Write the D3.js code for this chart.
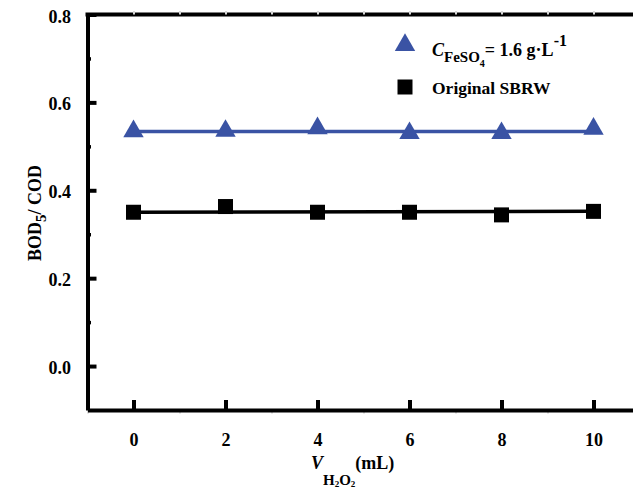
<!DOCTYPE html>
<html>
<head>
<meta charset="utf-8">
<script src="https://cdn.jsdelivr.net/npm/d3@7"></script>
<style>
  html, body { margin: 0; padding: 0; background: #fff; }
  svg { display: block; }
  text { font-family: "Liberation Serif", "Times New Roman", serif; font-weight: bold; fill: #000; }
</style>
</head>
<body>
<svg id="chart" width="633" height="498"></svg>
<script>
// ---- data ----
const volumes = [0, 2, 4, 6, 8, 10];
const fesoValues = [0.534, 0.535, 0.541, 0.530, 0.530, 0.540];
const originalValues = [0.350, 0.363, 0.350, 0.350, 0.344, 0.352];
const fitX = [0, 10];
const fesoFit = [0.534, 0.534];
const originalFit = [0.350, 0.352];
const xTicks = [0, 2, 4, 6, 8, 10];
const xMinorTicks = [-1, 1, 3, 5, 7, 9, 11];
const yTicks = [0.0, 0.2, 0.4, 0.6, 0.8];
const yMinorTicks = [0.1, 0.3, 0.5, 0.7];

const blue = "#3a53a4";
const svg = d3.select("#chart");

const x = d3.scaleLinear().domain([-1, 11]).range([87.5, 639.5]);
const y = d3.scaleLinear().domain([-0.1, 0.8]).range([410, 14.5]);

// top frame line
svg.append("line")
  .attr("x1", x(-1) - 2).attr("x2", 640)
  .attr("y1", y(0.8)).attr("y2", y(0.8))
  .attr("stroke", "#000").attr("stroke-width", 4);

// faint minor ticks along top and bottom
svg.append("g").attr("transform", `translate(0,${y(0.8)})`)
  .call(d3.axisTop(x).tickValues(d3.range(0, 11)).tickSize(3.5).tickFormat(""))
  .call(g => g.select(".domain").remove())
  .call(g => g.selectAll("line").attr("stroke", "#d8d8d8").attr("stroke-width", 2));

svg.append("g").attr("transform", `translate(0,${y(-0.1)})`)
  .call(d3.axisBottom(x).tickValues(xMinorTicks).tickSize(3.5).tickFormat(""))
  .call(g => g.select(".domain").remove())
  .call(g => g.selectAll("line").attr("stroke", "#d8d8d8").attr("stroke-width", 2));

// x axis
const xAxis = svg.append("g").attr("transform", `translate(0,${y(-0.1)})`)
  .call(d3.axisBottom(x).tickValues(xTicks).tickSize(-10).tickSizeOuter(0).tickPadding(23).tickFormat(d3.format("d")));
xAxis.select(".domain").attr("stroke-width", 4);
xAxis.selectAll(".tick line").attr("stroke-width", 4);
xAxis.selectAll(".tick text").attr("font-size", 18).attr("font-family", null).attr("dy", "0.71em");

// y axis
const yAxis = svg.append("g").attr("transform", `translate(${x(-1)},0)`)
  .call(d3.axisLeft(y).tickValues(yTicks).tickSize(-9).tickSizeOuter(0).tickPadding(16.5).tickFormat(d3.format(".1f")));
yAxis.select(".domain").attr("stroke-width", 4);
yAxis.selectAll(".tick line").attr("stroke-width", 4);
yAxis.selectAll(".tick text").attr("font-size", 18).attr("font-family", null).attr("dy", "0.42em");

svg.append("g").attr("transform", `translate(${x(-1)},0)`)
  .call(d3.axisLeft(y).tickValues(yMinorTicks).tickSize(-3.5).tickFormat(""))
  .call(g => g.select(".domain").remove())
  .call(g => g.selectAll("line").attr("stroke-width", 3.5));

// fit lines
const line = d3.line().x(d => x(d[0])).y(d => y(d[1]));
svg.append("path").datum(fitX.map((v, i) => [v, fesoFit[i]]))
  .attr("d", line).attr("fill", "none").attr("stroke", blue).attr("stroke-width", 3.5);
svg.append("path").datum(fitX.map((v, i) => [v, originalFit[i]]))
  .attr("d", line).attr("fill", "none").attr("stroke", "#000").attr("stroke-width", 3.5);

// markers
const tri = d3.symbol().type(d3.symbolTriangle).size(180);
const sq = d3.symbol().type(d3.symbolSquare).size(225);
svg.append("g").selectAll("path").data(volumes.map((v, i) => [v, fesoValues[i]])).join("path")
  .attr("d", tri).attr("fill", blue)
  .attr("transform", d => `translate(${x(d[0])},${y(d[1])})`);
svg.append("g").selectAll("path").data(volumes.map((v, i) => [v, originalValues[i]])).join("path")
  .attr("d", sq).attr("fill", "#000")
  .attr("transform", d => `translate(${x(d[0])},${y(d[1])})`);

// legend
svg.append("path").attr("d", tri).attr("fill", blue).attr("transform", "translate(405,45)");
svg.append("path").attr("d", sq).attr("fill", "#000").attr("transform", "translate(405,87)");

const l1 = svg.append("text").attr("x", 432).attr("y", 56).attr("font-size", 18);
l1.append("tspan").attr("font-style", "italic").text("C");
l1.append("tspan").attr("font-size", 15).attr("dy", 6).text("FeSO");
l1.append("tspan").attr("font-size", 10).attr("dy", 5).text("4");
l1.append("tspan").attr("dy", -11).attr("dx", 0).text("= 1.6 g\u00B7L");
l1.append("tspan").attr("font-size", 16).attr("dy", -10).text("-1");

svg.append("text").attr("x", 432).attr("y", 94).attr("font-size", 17.5).text("Original SBRW");

// x axis title
const xt = svg.append("text").attr("x", 311).attr("y", 469).attr("font-size", 18);
xt.append("tspan").attr("font-style", "italic").text("V");
xt.append("tspan").attr("font-size", 15).attr("dy", 16).text("H");
xt.append("tspan").attr("font-size", 9).attr("dy", 2).text("2");
xt.append("tspan").attr("font-size", 15).attr("dy", -2).text("O");
xt.append("tspan").attr("font-size", 9).attr("dy", 2).text("2");
xt.append("tspan").attr("dy", -18).text("(mL)");

// y axis title
const yt = svg.append("text").attr("transform", "translate(41,213) rotate(-90)")
  .attr("text-anchor", "middle").attr("font-size", 18);
yt.append("tspan").text("BOD");
yt.append("tspan").attr("font-size", 15).attr("dy", 5).text("5");
yt.append("tspan").attr("dy", -5).text("/ COD");
</script>
</body>
</html>
